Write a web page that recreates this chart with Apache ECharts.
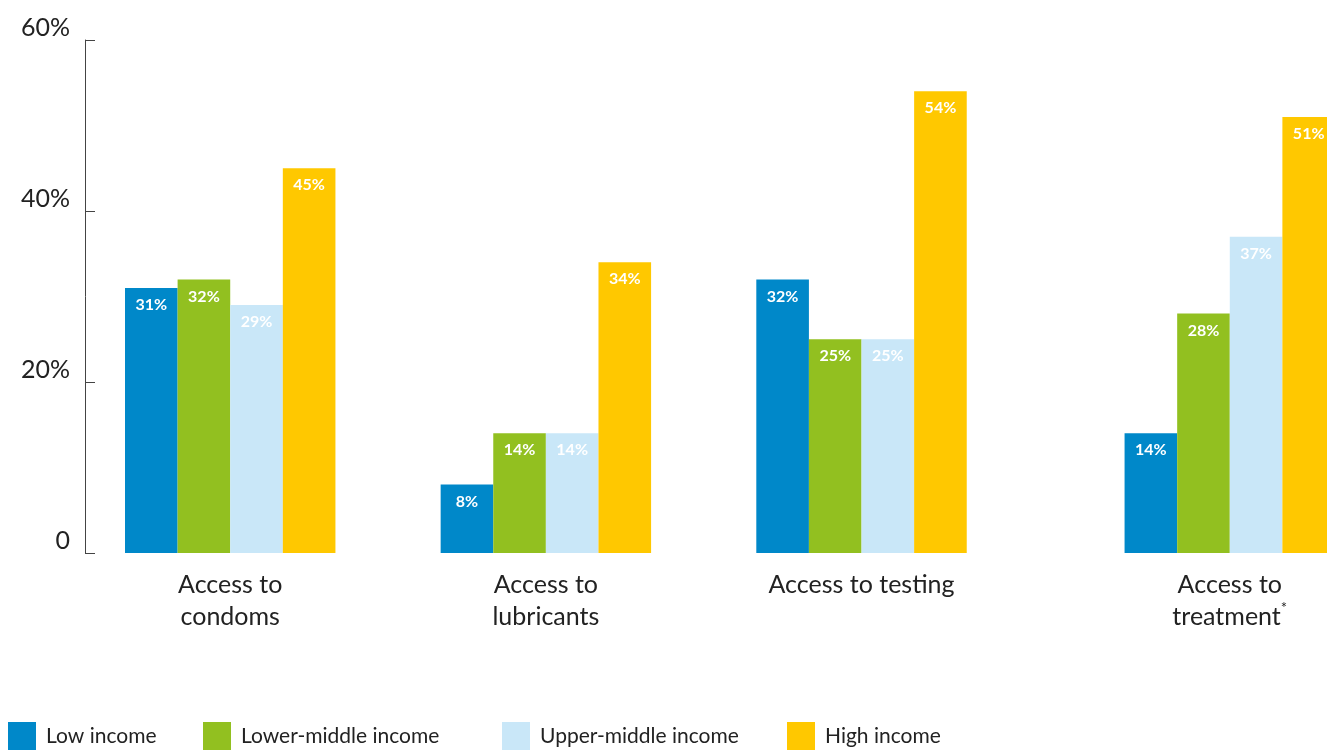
<!DOCTYPE html>
<html>
<head>
<meta charset="utf-8">
<script src="https://cdn.jsdelivr.net/npm/echarts@6/dist/echarts.min.js"></script>
<style>
  html, body { margin: 0; padding: 0; background: #fff; }
  #chart { width: 1327px; height: 751px; }
</style>
</head>
<body>
<div id="chart"></div>
<script>
// ---- Data ----
const categories = ['Access to\ncondoms', 'Access to\nlubricants', 'Access to testing', 'Access to\ntreatment{sup|*}'];
const seriesNames = ['Low income', 'Lower-middle income', 'Upper-middle income', 'High income'];
const lowIncome = [31, 8, 32, 14];
const lowerMiddleIncome = [32, 14, 25, 28];
const upperMiddleIncome = [29, 14, 25, 37];
const highIncome = [45, 34, 54, 51];
const yTickValues = [0, 20, 40, 60];
const yTickLabels = ['0', '20%', '40%', '60%'];

// ---- Layout (bar slots on the category axis) ----
const slotCount = 23;
const groupStartSlot = [0, 6, 12, 19];
const colors = ['#0088C9', '#92C020', '#C9E7F8', '#FFC800'];
const FONT = 'Lato';

const allValues = [lowIncome, lowerMiddleIncome, upperMiddleIncome, highIncome];

const slotAxisData = Array.from({ length: slotCount }, (_, i) => String(i));
const labelAxisData = Array.from({ length: slotCount + 1 }, () => '');
categories.forEach((c, g) => { labelAxisData[groupStartSlot[g] + 2] = c; });

const series = seriesNames.map((name, s) => {
  const data = Array.from({ length: slotCount }, () => '-');
  allValues[s].forEach((v, g) => { data[groupStartSlot[g] + s] = v; });
  return {
    name: name,
    type: 'bar',
    xAxisIndex: 0,
    data: data,
    barGap: '-100%',
    barCategoryGap: '0%',
    itemStyle: { color: colors[s] },
    label: {
      show: true,
      position: 'insideTop',
      distance: 9,
      color: '#fff',
      fontFamily: FONT,
      fontWeight: 'bold',
      fontSize: 16,
      formatter: p => p.value + '%'
    }
  };
});

const legendLefts = [8, 203, 502, 787];
const legends = seriesNames.map((name, s) => ({
  data: [name],
  left: legendLefts[s],
  top: 722,
  padding: 0,
  icon: 'rect',
  itemWidth: 28,
  itemHeight: 28,
  itemGap: 10,
  selectedMode: false,
  textStyle: { fontFamily: FONT, fontSize: 21, color: '#222', padding: [10, 0, 0, 5] }
}));

const chart = echarts.init(document.getElementById('chart'), null, { renderer: 'canvas' });
chart.setOption({
  animation: false,
  backgroundColor: '#fff',
  grid: { left: 125, width: 1210, top: 40, bottom: 198, containLabel: false, outerBoundsMode: 'none' },
  legend: legends,
  xAxis: [
    {
      type: 'category',
      data: slotAxisData,
      show: false,
      boundaryGap: true
    },
    {
      type: 'category',
      data: labelAxisData,
      boundaryGap: false,
      position: 'bottom',
      axisLine: { show: false },
      axisTick: { show: false },
      splitLine: { show: false },
      axisLabel: {
        interval: 0,
        margin: 16,
        fontFamily: FONT,
        fontSize: 25,
        lineHeight: 32,
        color: '#222',
        rich: {
          sup: { fontFamily: FONT, fontSize: 15, color: '#222', verticalAlign: 'top', lineHeight: 32, padding: [0, 0, 10, 0] }
        }
      }
    }
  ],
  yAxis: {
    type: 'value',
    min: 0,
    max: 60,
    interval: 20,
    offset: 40,
    axisLine: { show: true, lineStyle: { color: '#444', width: 1 } },
    axisTick: { show: true, inside: true, length: 10, lineStyle: { color: '#444', width: 1 } },
    splitLine: { show: false },
    axisLabel: {
      margin: 15,
      fontFamily: FONT,
      fontSize: 25,
      color: '#222',
      verticalAlign: 'bottom',
      formatter: v => { const i = yTickValues.indexOf(v); return i >= 0 ? yTickLabels[i] : ''; }
    }
  },
  series: series
});
</script>
</body>
</html>
